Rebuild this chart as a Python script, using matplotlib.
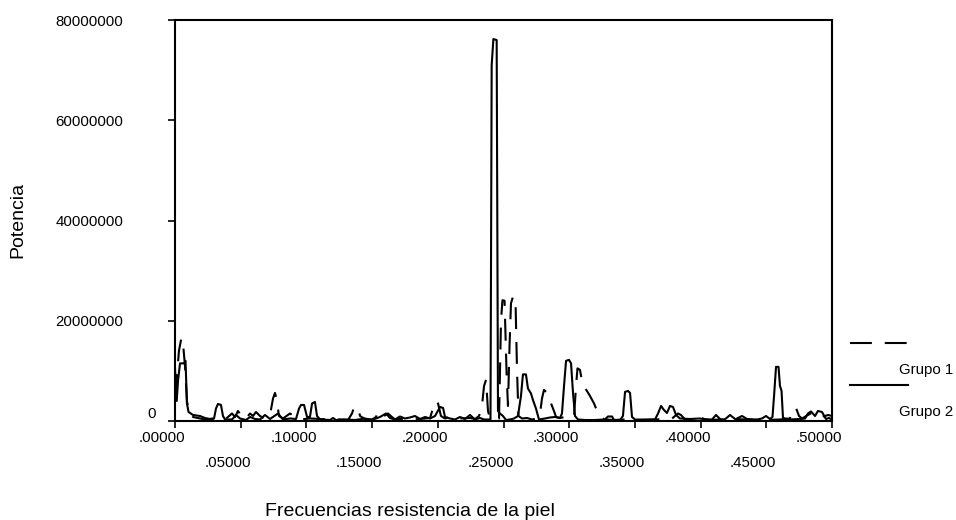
import matplotlib
matplotlib.use("Agg")
import matplotlib.pyplot as plt
from matplotlib.lines import Line2D
from matplotlib.transforms import ScaledTranslation
import numpy as np

plt.rcParams["font.family"] = ["Liberation Sans", "DejaVu Sans"]

# Periodograma (potencia en millones)
freq_g1 = [0.0000, 0.0015, 0.0030, 0.0049, 0.0061, 0.0076, 0.0091, 0.0107, 0.0137, 0.0190,
           0.0228, 0.0304, 0.0381, 0.0434, 0.0457, 0.0479, 0.0502, 0.0533, 0.0571, 0.0594,
           0.0616, 0.0647, 0.0685, 0.0723, 0.0746, 0.0761, 0.0776, 0.0791, 0.0822, 0.0875,
           0.0913, 0.0951, 0.1027, 0.1104, 0.1180, 0.1256, 0.1317, 0.1347, 0.1362, 0.1393,
           0.1408, 0.1446, 0.1499, 0.1530, 0.1545, 0.1568, 0.1591, 0.1621, 0.1651, 0.1674,
           0.1750, 0.1788, 0.1865, 0.1941, 0.1963, 0.1986, 0.2002, 0.2024, 0.2055, 0.2093,
           0.2131, 0.2169, 0.2245, 0.2283, 0.2314, 0.2336, 0.2352, 0.2367, 0.2382, 0.2397,
           0.2435, 0.2466, 0.2481, 0.2492, 0.2508, 0.2523, 0.2534, 0.2546, 0.2557, 0.2572,
           0.2591, 0.2603, 0.2614, 0.2641, 0.2679, 0.2717, 0.2755, 0.2778, 0.2793, 0.2808,
           0.2824, 0.2839, 0.2862, 0.2884, 0.2900, 0.2930, 0.2968, 0.3006, 0.3037, 0.3052,
           0.3063, 0.3082, 0.3097, 0.3113, 0.3135, 0.3158, 0.3189, 0.3212, 0.3234, 0.3272,
           0.3349, 0.3425, 0.3501, 0.3577, 0.3653, 0.3729, 0.3783, 0.3828, 0.3851, 0.3881,
           0.3957, 0.3995, 0.4026, 0.4072, 0.4148, 0.4224, 0.4277, 0.4315, 0.4353, 0.4414,
           0.4490, 0.4604, 0.4680, 0.4703, 0.4726, 0.4749, 0.4772, 0.4817, 0.4848, 0.4878,
           0.4909, 0.4947, 0.4970, 0.5000]
pot_g1 = [5.0, 9.0, 14.0, 16.6, 15.5, 11.0, 4.0, 1.5, 0.8, 0.5,
          0.3, 0.5, 0.3, 1.5, 0.8, 2.0, 1.2, 0.3, 1.5, 1.0,
          1.8, 1.0, 0.4, 1.2, 4.5, 5.6, 4.0, 1.0, 0.5, 1.5,
          0.8, 0.3, 0.5, 0.4, 0.3, 0.3, 0.2, 1.5, 2.7, 2.8,
          1.0, 0.4, 0.3, 0.8, 2.0, 1.8, 1.0, 1.5, 0.8, 0.3,
          0.5, 0.3, 0.4, 0.6, 2.5, 4.0, 3.5, 1.0, 0.5, 0.8,
          0.3, 0.5, 0.6, 0.4, 1.0, 3.0, 7.0, 8.2, 2.0, 0.5,
          0.3, 0.5, 20.0, 24.1, 24.0, 10.0, 3.0, 15.0, 23.5, 24.8,
          24.5, 10.0, 1.0, 0.5, 0.6, 0.3, 0.5, 1.5, 4.5, 6.2,
          5.8, 4.5, 3.5, 2.0, 0.8, 0.6, 0.8, 0.5, 1.0, 7.0,
          10.5, 10.2, 8.0, 6.8, 6.0, 5.0, 3.5, 2.0, 0.8, 0.3,
          0.2, 0.3, 0.2, 0.3, 0.3, 0.4, 0.5, 1.5, 1.2, 0.3,
          0.3, 0.8, 0.4, 0.2, 0.3, 0.4, 0.5, 1.0, 0.4, 0.3,
          0.2, 0.3, 0.5, 2.5, 2.6, 1.0, 0.5, 1.2, 1.6, 1.4,
          0.8, 1.0, 1.2, 1.0]

freq_g2 = [0.0000, 0.0013, 0.0023, 0.0038, 0.0068, 0.0080, 0.0091, 0.0103, 0.0137, 0.0190,
           0.0228, 0.0266, 0.0297, 0.0312, 0.0327, 0.0350, 0.0365, 0.0381, 0.0434, 0.0464,
           0.0495, 0.0540, 0.0571, 0.0609, 0.0647, 0.0685, 0.0723, 0.0784, 0.0822, 0.0875,
           0.0921, 0.0944, 0.0959, 0.0982, 0.1005, 0.1027, 0.1043, 0.1065, 0.1081, 0.1104,
           0.1180, 0.1202, 0.1225, 0.1294, 0.1370, 0.1446, 0.1499, 0.1560, 0.1606, 0.1636,
           0.1674, 0.1712, 0.1750, 0.1788, 0.1826, 0.1865, 0.1903, 0.1941, 0.1979, 0.2017,
           0.2040, 0.2055, 0.2093, 0.2131, 0.2169, 0.2207, 0.2245, 0.2283, 0.2321, 0.2352,
           0.2401, 0.2410, 0.2423, 0.2448, 0.2458, 0.2473, 0.2496, 0.2519, 0.2549, 0.2580,
           0.2610, 0.2633, 0.2648, 0.2671, 0.2686, 0.2709, 0.2724, 0.2747, 0.2770, 0.2816,
           0.2854, 0.2892, 0.2930, 0.2945, 0.2960, 0.2976, 0.2998, 0.3014, 0.3029, 0.3044,
           0.3067, 0.3120, 0.3196, 0.3272, 0.3295, 0.3326, 0.3341, 0.3387, 0.3409, 0.3425,
           0.3447, 0.3463, 0.3478, 0.3501, 0.3577, 0.3653, 0.3676, 0.3699, 0.3721, 0.3744,
           0.3767, 0.3790, 0.3813, 0.3843, 0.3919, 0.3995, 0.4033, 0.4087, 0.4117, 0.4148,
           0.4170, 0.4193, 0.4224, 0.4262, 0.4338, 0.4414, 0.4467, 0.4498, 0.4528, 0.4547,
           0.4559, 0.4574, 0.4593, 0.4604, 0.4616, 0.4627, 0.4680, 0.4756, 0.4795, 0.4817,
           0.4840, 0.4871, 0.4893, 0.4924, 0.4954, 0.4977, 0.5000]
pot_g2 = [10.5, 4.0, 8.0, 11.5, 11.5, 12.0, 3.5, 1.8, 1.2, 1.0,
          0.6, 0.4, 0.5, 2.5, 3.4, 3.2, 1.0, 0.3, 0.3, 1.2,
          0.5, 0.2, 0.8, 0.4, 0.3, 1.2, 0.4, 1.5, 0.3, 0.5,
          0.4, 2.5, 3.2, 3.2, 0.8, 0.8, 3.5, 3.8, 1.0, 0.3,
          0.2, 0.6, 0.2, 0.3, 0.2, 0.5, 0.2, 0.8, 1.5, 0.6,
          0.3, 0.9, 0.5, 0.7, 1.0, 0.4, 0.8, 0.5, 1.0, 2.8,
          2.6, 0.8, 0.5, 0.3, 0.8, 0.4, 1.2, 0.3, 0.6, 0.3,
          0.3, 71.0, 76.2, 76.0, 2.0, 1.5, 1.0, 0.2, 0.3, 0.5,
          1.0, 5.0, 9.3, 9.3, 6.5, 5.5, 4.2, 2.5, 0.3, 0.5,
          0.7, 0.8, 0.6, 1.5, 6.8, 12.0, 12.2, 11.5, 5.6, 1.0,
          0.3, 0.2, 0.2, 0.3, 0.9, 0.9, 0.2, 0.2, 1.0, 5.8,
          6.0, 5.6, 0.8, 0.3, 0.2, 0.3, 1.5, 3.0, 2.2, 1.6,
          3.0, 2.8, 1.2, 0.5, 0.4, 0.5, 0.3, 0.3, 1.2, 0.4,
          0.2, 0.5, 1.2, 0.4, 0.3, 0.2, 0.5, 1.0, 0.4, 0.8,
          5.0, 10.8, 10.8, 7.0, 6.0, 0.6, 0.3, 0.4, 0.5, 1.5,
          1.9, 1.0, 2.0, 1.8, 0.4, 0.6, 0.3]

x_ticks = [0.00, 0.05, 0.10, 0.15, 0.20, 0.25, 0.30, 0.35, 0.40, 0.45, 0.50]
x_tick_labels = [".00000", ".05000", ".10000", ".15000", ".20000", ".25000",
                 ".30000", ".35000", ".40000", ".45000", ".50000"]
y_ticks = [0, 20000000, 40000000, 60000000, 80000000]
y_tick_labels = ["0", "20000000", "40000000", "60000000", "80000000"]

DASH = (0, (10.5, 6.2))

fig = plt.figure(figsize=(9.56, 5.2), dpi=100)
ax = fig.add_axes([175 / 956, 99 / 520, 657 / 956, 401 / 520])

ax.plot(freq_g1, np.array(pot_g1) * 1e6, color="black", lw=1.5, linestyle=DASH)
ax.plot(freq_g2, np.array(pot_g2) * 1e6, color="black", lw=1.5)

ax.set_xlim(0, 0.5)
ax.set_ylim(0, 80000000)
for s in ax.spines.values():
    s.set_linewidth(1.5)

ax.set_xticks(x_ticks)
ax.set_xticklabels(x_tick_labels)
ax.set_yticks(y_ticks)
ax.set_yticklabels(y_tick_labels)
ax.tick_params(direction="out", length=5, width=1.2, labelsize=10.8, colors="black")

# etiquetas del eje x en dos filas, algo desplazadas a la izquierda
shift = ScaledTranslation(-0.13, 0, fig.dpi_scale_trans)
for i, t in enumerate(ax.xaxis.get_major_ticks()):
    t.set_pad(2 if i % 2 == 0 else 20)
    t.label1.set_transform(t.label1.get_transform() + shift)

for i, t in enumerate(ax.yaxis.get_major_ticks()):
    t.set_pad(32.4 if i > 0 else 8.7)
    if i == 0:
        t.label1.set_transform(t.label1.get_transform()
                               + ScaledTranslation(0, 0.08, fig.dpi_scale_trans))

fig.text(410 / 956, 1 - 511 / 520, "Frecuencias resistencia de la piel",
         ha="center", va="center", fontsize=14)
fig.text(18 / 956, 1 - 220 / 520, "Potencia", rotation=90,
         ha="center", va="center", fontsize=14)

# leyenda a la derecha (estilo SPSS)
fig.add_artist(Line2D([850 / 956, 908 / 956], [1 - 343 / 520] * 2,
                      transform=fig.transFigure, color="black", lw=1.5, linestyle=DASH))
fig.add_artist(Line2D([850 / 956, 908 / 956], [1 - 385 / 520] * 2,
                      transform=fig.transFigure, color="black", lw=1.5))
fig.text(953 / 956, 1 - 370 / 520, "Grupo 1", ha="right", va="center", fontsize=10.8)
fig.text(953 / 956, 1 - 412 / 520, "Grupo 2", ha="right", va="center", fontsize=10.8)

fig.savefig("out.png", dpi=100)
